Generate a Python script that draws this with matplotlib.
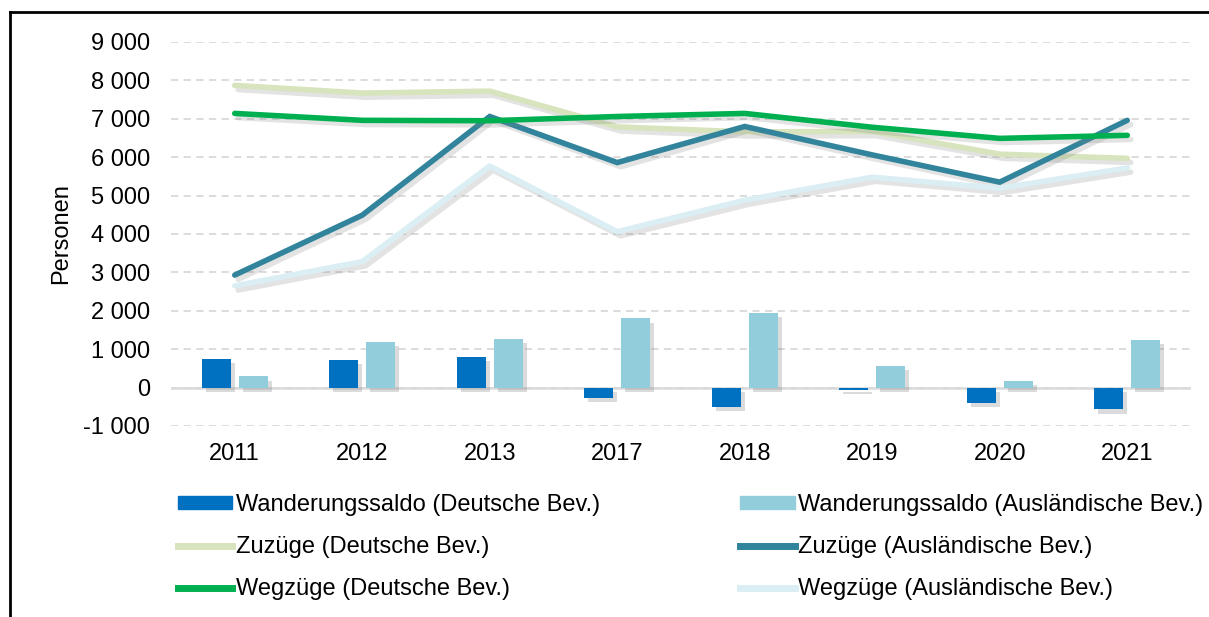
import matplotlib.pyplot as plt
import matplotlib.patheffects as pe
from matplotlib.lines import Line2D
from matplotlib.patches import Patch
from matplotlib.ticker import FuncFormatter
import numpy as np

plt.rcParams['font.family'] = ['Liberation Sans', 'DejaVu Sans']

jahre = ['2011', '2012', '2013', '2017', '2018', '2019', '2020', '2021']

saldo_de = [740, 730, 790, -260, -500, -60, -390, -570]
saldo_aus = [290, 1190, 1270, 1800, 1940, 570, 180, 1240]
zuzuege_de = [7870, 7670, 7720, 6790, 6660, 6670, 6080, 5970]
zuzuege_aus = [2930, 4490, 7060, 5860, 6800, 6060, 5350, 6960]
wegzuege_de = [7140, 6960, 6950, 7060, 7140, 6780, 6490, 6570]
wegzuege_aus = [2650, 3280, 5770, 4060, 4880, 5480, 5190, 5720]

c_saldo_de, c_saldo_aus = '#0070C0', '#92CDDC'
c_zu_de, c_zu_aus = '#D7E4BD', '#31849B'
c_weg_de, c_weg_aus = '#00B050', '#DAEEF3'

fig = plt.figure(figsize=(12.09, 6.17), dpi=100)
ax = fig.add_axes([171/1209, 1 - 426/617, 1020/1209, 384/617])

x = np.arange(len(jahre))
bw = 0.227
off = 0.145

bar_shadow = [pe.SimplePatchShadow(offset=(3, -3), shadow_rgbFace='gray', alpha=0.28), pe.Normal()]
line_shadow = [pe.SimpleLineShadow(offset=(2.5, -3), shadow_color='gray', alpha=0.22), pe.Normal()]

b1 = ax.bar(x - off, saldo_de, width=bw, color=c_saldo_de, zorder=3)
b2 = ax.bar(x + off, saldo_aus, width=bw, color=c_saldo_aus, zorder=3)
for b in list(b1) + list(b2):
    b.set_path_effects(bar_shadow)

lw = 4.0
for vals, c in [(zuzuege_de, c_zu_de), (zuzuege_aus, c_zu_aus),
                (wegzuege_de, c_weg_de), (wegzuege_aus, c_weg_aus)]:
    ax.plot(x, vals, color=c, lw=lw, zorder=4, solid_capstyle='round',
            solid_joinstyle='miter', path_effects=line_shadow)

ax.set_xlim(-0.5, 7.5)
ax.set_ylim(-1000, 9000)
ax.set_yticks(range(-1000, 9001, 1000))
ax.yaxis.set_major_formatter(FuncFormatter(lambda v, p: f'{int(v):,}'.replace(',', ' ')))
ax.set_xticks(x)
ax.set_xticklabels(jahre)
ax.tick_params(axis='both', length=0, labelsize=17)
ax.tick_params(axis='y', pad=15)
ax.tick_params(axis='x', pad=12)
for s in ax.spines.values():
    s.set_visible(False)
ax.grid(axis='y', color='#D9D9D9', linestyle=(0, (4, 3)), lw=1.3, zorder=0)
ax.axhline(0, color='#D9D9D9', lw=1.8, zorder=1)
ax.set_ylabel('Personen', fontsize=17, labelpad=8)

# Legende: Spalte 1 Deutsche, Spalte 2 Ausländische Bev.
h = [Patch(color=c_saldo_de), Line2D([], [], color=c_zu_de, lw=5), Line2D([], [], color=c_weg_de, lw=5),
     Patch(color=c_saldo_aus), Line2D([], [], color=c_zu_aus, lw=5), Line2D([], [], color=c_weg_aus, lw=5)]
labels = ['Wanderungssaldo (Deutsche Bev.)', 'Zuzüge (Deutsche Bev.)', 'Wegzüge (Deutsche Bev.)',
          'Wanderungssaldo (Ausländische Bev.)', 'Zuzüge (Ausländische Bev.)', 'Wegzüge (Ausländische Bev.)']
fig.legend(h, labels, ncol=2, loc='upper left', bbox_to_anchor=(178/1209, 1 - 494/617),
           frameon=False, fontsize=17, handlelength=2.3, handleheight=0.5,
           handletextpad=0.15, columnspacing=5.95, labelspacing=0.85,
           borderaxespad=0, borderpad=0)

# Rahmen oben und links
fig.add_artist(Line2D([10/1209, 1], [1 - 12/617, 1 - 12/617], color='black', lw=2))
fig.add_artist(Line2D([10/1209, 10/1209], [0, 1 - 12/617], color='black', lw=2))

fig.savefig('out.png', dpi=100)
